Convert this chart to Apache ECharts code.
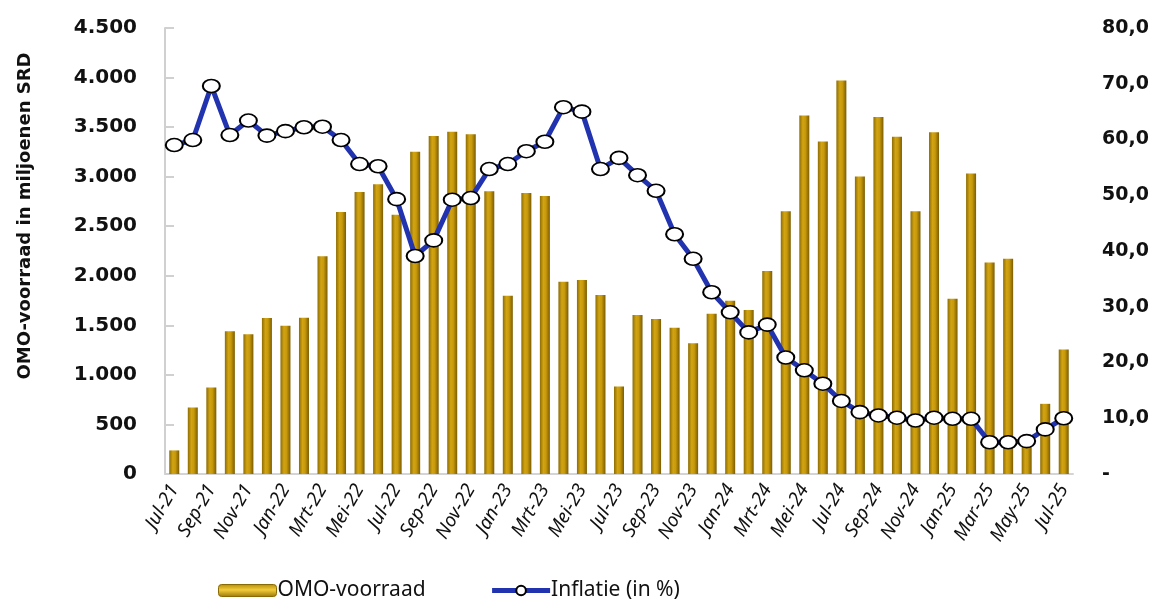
<!DOCTYPE html>
<html>
<head>
<meta charset="utf-8">
<script src="https://cdn.jsdelivr.net/npm/echarts@6/dist/echarts.min.js"></script>
<style>
  html, body { margin: 0; padding: 0; background: #fff; }
  #chart { width: 1152px; height: 606px; }
</style>
</head>
<body>
<div id="chart"></div>
<script>
const months = [
  'Jul-21', 'Aug-21', 'Sep-21', 'Okt-21', 'Nov-21', 'Dec-21',
  'Jan-22', 'Feb-22', 'Mrt-22', 'Apr-22', 'Mei-22', 'Jun-22',
  'Jul-22', 'Aug-22', 'Sep-22', 'Okt-22', 'Nov-22', 'Dec-22',
  'Jan-23', 'Feb-23', 'Mrt-23', 'Apr-23', 'Mei-23', 'Jun-23',
  'Jul-23', 'Aug-23', 'Sep-23', 'Okt-23', 'Nov-23', 'Dec-23',
  'Jan-24', 'Feb-24', 'Mrt-24', 'Apr-24', 'Mei-24', 'Jun-24',
  'Jul-24', 'Aug-24', 'Sep-24', 'Okt-24', 'Nov-24', 'Dec-24',
  'Jan-25', 'Feb-25', 'Mar-25', 'Apr-25', 'May-25', 'Jun-25',
  'Jul-25'
];
const omoVoorraad = [
  238, 671, 874, 1441, 1411, 1573, 1495, 1576, 2197, 2643, 2846, 2924,
  2617, 3251, 3410, 3454, 3428, 2853, 1799, 2836, 2805, 1941, 1958, 1806,
  884, 1603, 1563, 1475, 1319, 1616, 1748, 1654, 2049, 2650, 3616, 3356,
  3971, 3002, 3603, 3403, 2650, 3448, 1769, 3032, 2133, 2171, 330, 708,
  1255
];
const inflatie = [
  59.0, 59.9, 69.6, 60.8, 63.4, 60.7, 61.5, 62.2, 62.3, 59.9, 55.6, 55.2,
  49.3, 39.1, 41.9, 49.2, 49.5, 54.7, 55.6, 57.9, 59.6, 65.8, 65.0, 54.7,
  56.7, 53.6, 50.8, 43.0, 38.6, 32.6, 29.0, 25.4, 26.8, 20.9, 18.6, 16.2,
  13.1, 11.1, 10.5, 10.1, 9.6, 10.1, 9.9, 9.9, 5.7, 5.7, 5.9, 8.0,
  10.0
];

const chart = echarts.init(document.getElementById('chart'));

const goldBar = {
  type: 'linear', x: 0, y: 0, x2: 1, y2: 0,
  colorStops: [
    { offset: 0, color: '#8c6c05' },
    { offset: 0.35, color: '#d2a412' },
    { offset: 0.6, color: '#c89a0c' },
    { offset: 1, color: '#7a5c04' }
  ]
};
const goldLegend = {
  type: 'linear', x: 0, y: 0, x2: 0, y2: 1,
  colorStops: [
    { offset: 0, color: '#b08a08' },
    { offset: 0.45, color: '#f2cc3a' },
    { offset: 1, color: '#9a7606' }
  ]
};

chart.setOption({
  animation: false,
  grid: { left: 165, right: 79, top: 28, bottom: 132 },
  graphic: [{
    type: 'text',
    x: 25, y: 216,
    rotation: Math.PI / 2,
    style: {
      text: 'OMO-voorraad in miljoenen SRD',
      font: 'bold 18px "DejaVu Sans"',
      fill: '#111',
      align: 'center',
      verticalAlign: 'middle'
    }
  }],
  legend: {
    bottom: 0,
    left: 213,
    itemGap: 64,
    itemWidth: 58,
    itemHeight: 12,
    textStyle: { fontFamily: 'Noto Sans', fontSize: 21, color: '#111', padding: [0, 0, 0, -4] },
    data: [
      { name: 'OMO-voorraad', itemStyle: { color: goldLegend, borderColor: '#8a6a04', borderWidth: 1 } },
      { name: 'Inflatie (in %)', lineStyle: { width: 5, color: '#2233b0' } }
    ]
  },
  xAxis: {
    type: 'category',
    data: months,
    axisLine: { lineStyle: { color: '#d4d4d4', width: 2 } },
    axisTick: { inside: true, length: 6, interval: 0, lineStyle: { color: '#d4d4d4', width: 2 } },
    axisLabel: {
      interval: 1,
      rotate: 60,
      margin: 12,
      fontFamily: 'Noto Sans',
      fontStyle: 'italic',
      fontSize: 19,
      color: '#111'
    }
  },
  yAxis: [{
    type: 'value',
    min: 0, max: 4500, interval: 500,
    axisLine: { show: true, lineStyle: { color: '#d0d0d0', width: 2 } },
    axisTick: { show: true, inside: true, length: 9, lineStyle: { color: '#d0d0d0', width: 2 } },
    splitLine: { show: false },
    axisLabel: {
      margin: 28,
      fontFamily: 'DejaVu Sans',
      fontWeight: 'bold',
      fontSize: 20,
      color: '#111',
      formatter: function (v) {
        return v.toString().replace(/\B(?=(\d{3})+(?!\d))/g, '.');
      }
    }
  }, {
    type: 'value',
    min: 0, max: 80, interval: 10,
    axisLine: { show: false },
    axisTick: { show: false },
    splitLine: { show: false },
    axisLabel: {
      margin: 29,
      fontFamily: 'DejaVu Sans',
      fontWeight: 'bold',
      fontSize: 19,
      color: '#111',
      formatter: function (v) {
        return v === 0 ? '-' : v.toFixed(1).replace('.', ',');
      }
    }
  }],
  series: [{
    name: 'OMO-voorraad',
    type: 'bar',
    barWidth: 10,
    data: omoVoorraad,
    itemStyle: { color: goldBar }
  }, {
    name: 'Inflatie (in %)',
    type: 'line',
    yAxisIndex: 1,
    data: inflatie,
    symbol: 'circle',
    symbolSize: [17, 13],
    showAllSymbol: true,
    lineStyle: { color: '#2233b0', width: 5 },
    itemStyle: { color: '#fff', borderColor: '#000', borderWidth: 1.8 }
  }]
});
</script>
</body>
</html>
